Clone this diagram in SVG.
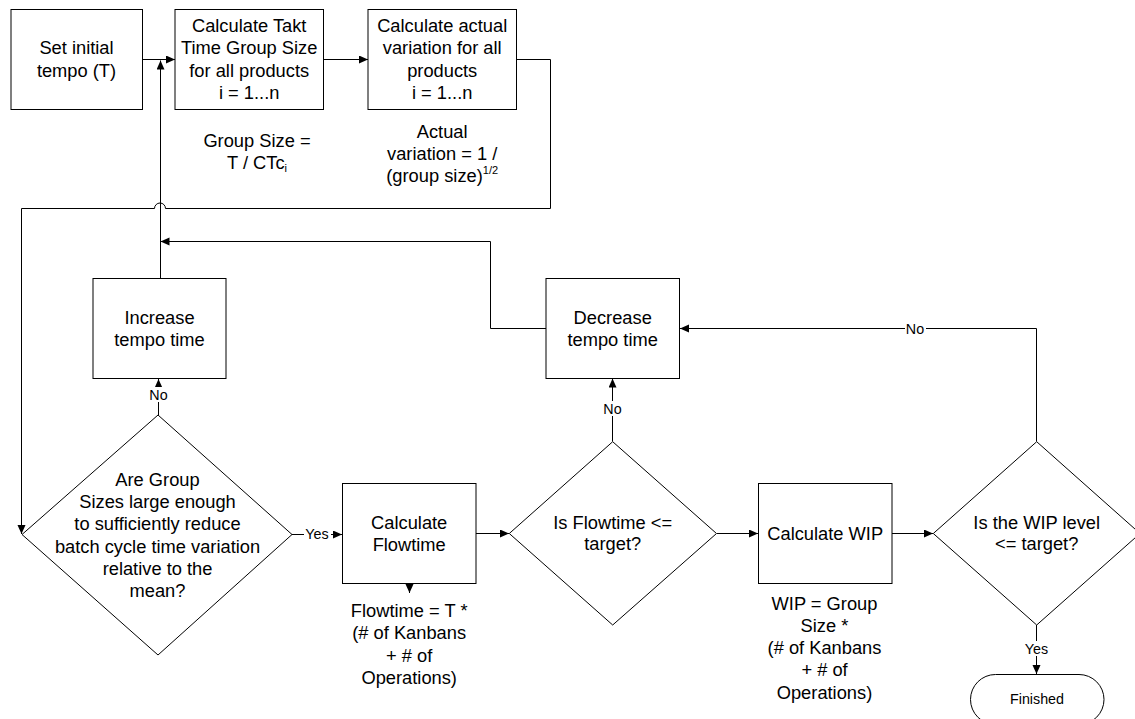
<svg xmlns="http://www.w3.org/2000/svg" width="1135" height="719" viewBox="0 0 1135 719">
<style>
.box{fill:#fff;stroke:#000;stroke-width:1}
.t{font-family:"Liberation Sans",Arial,sans-serif;font-size:18.3px;fill:#000;text-anchor:middle}
.s{font-family:"Liberation Sans",Arial,sans-serif;font-size:14.3px;fill:#000;text-anchor:middle}
.c{fill:none;stroke:#000;stroke-width:1}
.lb{fill:#fff;stroke:none}
</style>
<defs>
<marker id="arr" markerUnits="userSpaceOnUse" markerWidth="10" markerHeight="9" refX="9" refY="4" orient="auto">
<path d="M0,0 L9,4 L0,8 z" fill="#000"/>
</marker>
</defs>
<rect width="1135" height="719" fill="#fff"/>

<g id="connectors">
<path class="c" d="M142.5,59.5 H175" marker-end="url(#arr)"/>
<path class="c" d="M323.5,59.5 H368" marker-end="url(#arr)"/>
<path class="c" d="M516.5,59.5 H550.5 V208.5 H165.5 A5.5,5.5 0 0 0 154.5,208.5 H21.5 V534" marker-end="url(#arr)"/>
<path class="c" d="M160.5,278.5 V60.5" marker-end="url(#arr)"/>
<path class="c" d="M546,328.5 H490.5 V241.5 H160.5" marker-end="url(#arr)"/>
<path class="c" d="M158.5,415 V379" marker-end="url(#arr)"/>
<path class="c" d="M292,534.5 H342" marker-end="url(#arr)"/>
<path class="c" d="M476,533.5 H509" marker-end="url(#arr)"/>
<path class="c" d="M409.5,583.5 V593" marker-end="url(#arr)"/>
<path class="c" d="M612.5,441.5 V378.5" marker-end="url(#arr)"/>
<path class="c" d="M717,533.5 H758" marker-end="url(#arr)"/>
<path class="c" d="M892,533.5 H933" marker-end="url(#arr)"/>
<path class="c" d="M1036.5,441.5 V328.5 H680" marker-end="url(#arr)"/>
<path class="c" d="M1036.5,625 V674" marker-end="url(#arr)"/>
<rect class="lb" x="148" y="387" width="21" height="15"/>
<text class="s" x="158.5" y="400">No</text>
<rect class="lb" x="304" y="527" width="27" height="15"/>
<text class="s" x="317" y="539">Yes</text>
<rect class="lb" x="602" y="401" width="21" height="15"/>
<text class="s" x="612.5" y="414">No</text>
<rect class="lb" x="905" y="321" width="21" height="15"/>
<text class="s" x="915" y="334">No</text>
<rect class="lb" x="1023" y="641" width="27" height="15"/>
<text class="s" x="1036.5" y="654">Yes</text>
</g>

<g id="set-initial">
<rect class="box" x="11" y="9.5" width="131.5" height="100"/>
<text class="t" x="76.5" y="54.4">Set initial</text>
<text class="t" x="76.5" y="76.6">tempo (T)</text>
</g>

<g id="calc-takt">
<rect class="box" x="175" y="9.5" width="148.5" height="100"/>
<text class="t" x="249.2" y="32.2">Calculate Takt</text>
<text class="t" x="249.2" y="54.4">Time Group Size</text>
<text class="t" x="249.2" y="76.6">for all products</text>
<text class="t" x="249.2" y="98.8">i = 1...n</text>
</g>

<g id="group-size-note">
<text class="t" x="257" y="146.5">Group Size =</text>
<text class="t" x="257" y="168.5">T / CTc<tspan font-size="11px" dy="3">i</tspan></text>
</g>

<g id="calc-variation">
<rect class="box" x="368" y="9.5" width="148.5" height="100"/>
<text class="t" x="442.2" y="32.2">Calculate actual</text>
<text class="t" x="442.2" y="54.4">variation for all</text>
<text class="t" x="442.2" y="76.6">products</text>
<text class="t" x="442.2" y="98.8">i = 1...n</text>
</g>

<g id="variation-note">
<text class="t" x="442.2" y="137.5">Actual</text>
<text class="t" x="442.2" y="159.5">variation = 1 /</text>
<text class="t" x="442.2" y="181.5">(group size)<tspan font-size="11px" dy="-8">1/2</tspan></text>
</g>

<g id="increase">
<rect class="box" x="93" y="278.5" width="133" height="100"/>
<text class="t" x="159.5" y="324">Increase</text>
<text class="t" x="159.5" y="346">tempo time</text>
</g>

<g id="decrease">
<rect class="box" x="546" y="278.5" width="133.5" height="100"/>
<text class="t" x="612.7" y="324">Decrease</text>
<text class="t" x="612.7" y="346">tempo time</text>
</g>

<g id="group-size-check">
<polygon class="box" points="158,415 292,534.5 158,655 22,534.5"/>
<text class="t" x="157.5" y="486">Are Group</text>
<text class="t" x="157.5" y="508.2">Sizes large enough</text>
<text class="t" x="157.5" y="530.4">to sufficiently reduce</text>
<text class="t" x="157.5" y="552.6">batch cycle time variation</text>
<text class="t" x="157.5" y="574.8">relative to the</text>
<text class="t" x="157.5" y="597">mean?</text>
</g>

<g id="calc-flowtime">
<rect class="box" x="342.5" y="483.5" width="133.5" height="100"/>
<text class="t" x="409.2" y="528.5">Calculate</text>
<text class="t" x="409.2" y="550.5">Flowtime</text>
</g>

<g id="flowtime-note">
<text class="t" x="409.2" y="616.5">Flowtime = T *</text>
<text class="t" x="409.2" y="639">(# of Kanbans</text>
<text class="t" x="409.2" y="661.5">+ # of</text>
<text class="t" x="409.2" y="684">Operations)</text>
</g>

<g id="flowtime-check">
<polygon class="box" points="612.7,441.7 716.5,533.5 612.7,625 509.3,533.5"/>
<text class="t" x="612.7" y="528.8">Is Flowtime &lt;=</text>
<text class="t" x="612.7" y="549.8">target?</text>
</g>

<g id="calc-wip">
<rect class="box" x="758.5" y="483.5" width="133.5" height="100"/>
<text class="t" x="825.2" y="539.8">Calculate WIP</text>
</g>

<g id="wip-note">
<text class="t" x="824.5" y="609.8">WIP = Group</text>
<text class="t" x="824.5" y="632">Size *</text>
<text class="t" x="824.5" y="654.2">(# of Kanbans</text>
<text class="t" x="824.5" y="676.4">+ # of</text>
<text class="t" x="824.5" y="698.6">Operations)</text>
</g>

<g id="wip-check">
<polygon class="box" points="1036.7,441.7 1140,533.5 1036.7,625 933.3,533.5"/>
<text class="t" x="1036.7" y="528.8">Is the WIP level</text>
<text class="t" x="1036.7" y="549.8">&lt;= target?</text>
</g>

<g id="finished">
<rect class="box" x="970.5" y="674.5" width="133.5" height="50" rx="25" ry="25"/>
<text class="s" x="1037" y="703.5">Finished</text>
</g>
</svg>
